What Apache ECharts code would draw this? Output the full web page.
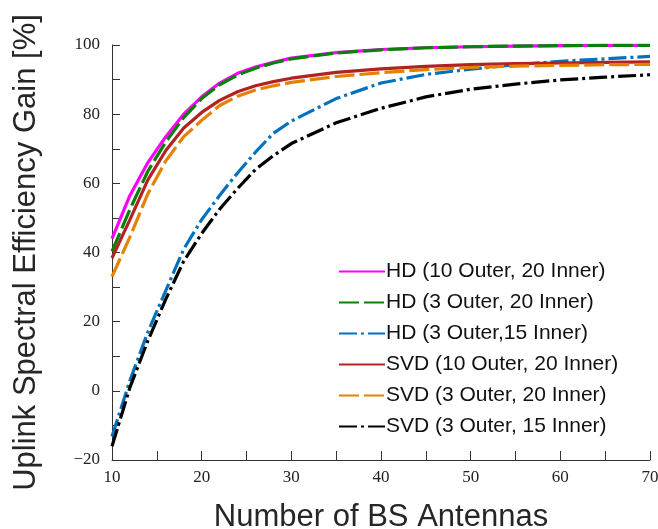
<!DOCTYPE html>
<html>
<head>
<meta charset="utf-8">
<script src="https://cdn.jsdelivr.net/npm/echarts@6/dist/echarts.min.js"></script>
<style>html,body{margin:0;padding:0;background:#fff}#c{width:658px;height:529px}</style>
</head>
<body>
<div id="c"></div>
<script>
const antennas = [10,12,14,16,18,20,22,24,26,28,30,35,40,45,50,55,60,65,70];
const hd10_20  = [44.0,56.5,66.0,73.5,80.0,85.0,89.0,91.8,93.6,95.0,96.2,97.8,98.7,99.2,99.5,99.7,99.8,99.9,99.9];
const hd3_20   = [40.3,52.5,63.5,72.0,79.0,84.5,88.5,91.3,93.3,94.8,96.0,97.7,98.6,99.2,99.5,99.7,99.8,99.9,99.9];
const hd3_15   = [-13.2,3.0,17.0,29.0,41.0,49.5,56.5,63.0,69.0,74.5,78.0,84.5,89.0,91.5,93.0,94.3,95.3,96.0,96.7];
const svd10_20 = [38.4,49.5,61.0,69.5,76.0,80.5,84.0,86.5,88.2,89.4,90.4,92.1,93.1,93.8,94.3,94.6,94.8,95.0,95.1];
const svd3_20  = [33.0,44.5,57.0,66.5,73.5,78.2,82.5,85.2,87.0,88.2,89.2,90.9,92.0,92.9,93.5,93.9,94.1,94.3,94.4];
const svd3_15  = [-16.0,1.0,14.5,26.5,37.5,45.5,52.5,58.5,64.0,68.0,71.5,77.5,81.7,85.0,87.2,88.7,89.9,90.7,91.4];
const seriesNames = ['HD (10 Outer, 20 Inner)','HD (3 Outer, 20 Inner)','HD (3 Outer,15 Inner)','SVD (10 Outer, 20 Inner)','SVD (3 Outer, 20 Inner)','SVD (3 Outer, 15 Inner)'];

const seriesData = [hd10_20, hd3_20, hd3_15, svd10_20, svd3_20, svd3_15];
const colors = ['#ff00ff','#0a800a','#0072bd','#b22222','#e68000','#000000'];
const dashes = ['solid',[20,5],[18,4,3,4],'solid',[20,5],[18,4,3,4]];

const chart = echarts.init(document.getElementById('c'), null, {renderer:'canvas'});
const serif = 'Liberation Serif';
const sans = 'Liberation Sans';
chart.setOption({
  animation:false,
  backgroundColor:'#fff',
  grid:{left:112,right:8,top:45,bottom:69,containLabel:false,outerBoundsMode:'none'},
  legend:{
    orient:'vertical', left:333, top:256,
    itemWidth:46, itemHeight:12, itemGap:10,
    itemStyle:{opacity:0},
    textStyle:{fontFamily:sans,fontSize:21,color:'#111',lineHeight:21,padding:[0,0,0,-4]},
    data:seriesNames
  },
  xAxis:{
    type:'value', min:10, max:70, interval:5,
    name:'Number of BS Antennas', nameLocation:'middle', nameGap:42,
    nameTextStyle:{fontFamily:sans,fontSize:31,color:'#262626'},
    axisLine:{show:true,onZero:false,lineStyle:{color:'#333',width:1}},
    axisTick:{show:true,inside:true,length:9,lineStyle:{color:'#333'}},
    axisLabel:{fontFamily:serif,fontSize:17,color:'#222',margin:9,
      formatter:v=> (v%10===0? String(v).replace('-','\u2212') : '')},
    splitLine:{show:false}
  },
  yAxis:{
    type:'value', min:-20, max:100, interval:10,
    name:'Uplink Spectral Efficiency Gain [%]', nameLocation:'middle', nameGap:70,
    nameTextStyle:{fontFamily:sans,fontSize:31,color:'#262626'},
    axisLine:{show:true,onZero:false,lineStyle:{color:'#333',width:1}},
    axisTick:{show:true,inside:true,length:8,lineStyle:{color:'#333'}},
    axisLabel:{fontFamily:serif,fontSize:17,color:'#222',margin:12,
      formatter:v=> (v%20===0? String(v).replace('-','\u2212') : '')},
    splitLine:{show:false}
  },
  series: seriesNames.map((n,i)=>({
    name:n, type:'line', symbol:'none', smooth:false,
    data: antennas.map((x,j)=>[x, seriesData[i][j]]),
    lineStyle:{color:colors[i],width:3.2,type:dashes[i]},
    itemStyle:{color:colors[i]}
  }))
});
</script>
</body>
</html>
